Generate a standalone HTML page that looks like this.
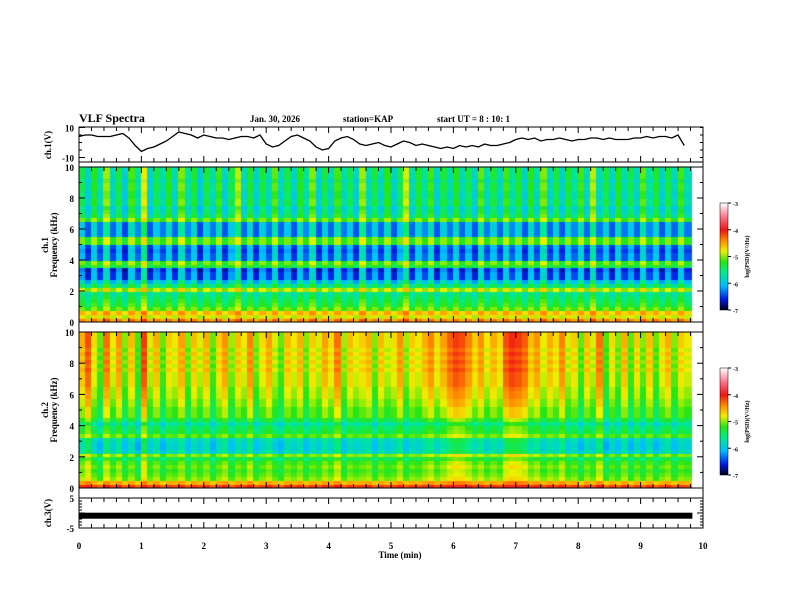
<!DOCTYPE html>
<html><head><meta charset="utf-8">
<style>
html,body{margin:0;padding:0;background:#fff;}
#wrap{position:relative;width:792px;height:612px;overflow:hidden;font-family:"Liberation Serif",serif;}
canvas{position:absolute;}
svg{position:absolute;left:0;top:0;}
text{font-family:"Liberation Serif",serif;font-weight:bold;fill:#000;}
</style></head><body>
<div id="wrap">
<canvas id="spec1" width="614" height="155" style="left:79px;top:167px"></canvas>
<canvas id="spec2" width="614" height="156" style="left:79px;top:332px"></canvas>
<canvas id="cb1" width="8" height="107" style="left:720px;top:203px"></canvas>
<canvas id="cb2" width="8" height="107" style="left:720px;top:368px"></canvas>
<svg id="axes" width="792" height="612"></svg>
</div>
<script>
// ---- data ----
const timeTicks=[0,1,2,3,4,5,6,7,8,9,10];
const freqTicks=[0,2,4,6,8,10];
const cbTicks=[-3,-4,-5,-6,-7];
// ch1 waveform every 0.1 min (V)
const ch1Wave=[4,5,5,4,4,4,5,6,3,-2,-6,-4,-3,-1,1,4,7,6,5,3,5,4,3,3,2,3,4,4,3,5,-1,-3,-2,1,4,5,3,1,-3,-5,-4,1,3,4,2,-1,-2,-1,0,-2,-3,-1,1,0,-2,-1,-2,-3,-4,-3,-4,-2,-3,-2,-3,-1,-2,-2,-1,0,2,3,2,3,1,2,2,3,2,1,2,2,3,3,2,3,2,2,2,3,3,4,3,4,4,3,5,-2];
// ch1 band levels, 0.25 kHz rows from 0 kHz (log PSD)
const band1=[-4.4,-4.8,-4.6,-5.1,-5.3,-5.4,-5.5,-5.6,-4.9,-5.5,-5.9,-6.3,-6.3,-6.4,-5.3,-5.1,-6.2,-6.2,-6.3,-6.2,-5.1,-5.1,-6.1,-6.1,-6.1,-6.1,-5.1,-5.5,-5.6,-5.7,-5.5,-5.5,-5.6,-5.6,-5.5,-5.5,-5.6,-5.5,-5.5,-5.5];
const band2=[-4.2,-4.6,-5.1,-5.2,-5.3,-5.2,-5.3,-5.5,-5.1,-5.9,-6.0,-6.0,-5.9,-5.2,-5.5,-5.6,-5.8,-5.5,-5.3,-5.3,-5.3,-5.2,-5.2,-5.1,-5.1,-5.1,-5.0,-5.0,-5.0,-5.0,-4.9,-5.0,-4.9,-5.0,-4.9,-5.0,-4.9,-4.9,-4.9,-4.9];
// column modulation per 0.1 min
const mod1=[0.2,-0.6,0.5,-0.4,0.9,-0.5,0.3,-0.7,0.6,-0.3,1.2,-0.6,0.2,-0.4,0.5,-0.5,0.8,-0.3,0.4,-0.7,0.3,-0.4,0.6,-0.6,0.2,1.0,-0.5,0.4,-0.6,0.3,-0.4,0.7,-0.5,0.2,-0.6,0.5,-0.3,0.8,-0.6,0.3,-0.5,0.6,-0.4,0.2,-0.6,0.9,-0.4,0.3,-0.5,0.5,-0.6,0.2,1.1,-0.5,0.4,-0.3,0.6,-0.6,0.3,-0.4,0.5,-0.5,0.2,-0.6,0.7,-0.4,0.3,-0.5,0.6,-0.3,0.4,-0.6,0.5,-0.4,0.8,-0.5,0.3,-0.6,0.4,-0.3,0.6,-0.5,1.0,-0.4,0.3,-0.6,0.5,-0.4,0.2,-0.5,0.7,-0.3,0.4,-0.6,0.3,-0.5,0.6,-0.4];
const mod2=[0.6,1.2,0.3,-0.3,1.0,0.2,0.8,-0.2,0.5,-0.4,1.3,0.1,0.6,-0.3,0.4,0.2,0.7,-0.2,0.5,0.1,0.6,-0.3,0.4,0.8,-0.1,0.5,0.2,0.9,-0.2,0.3,0.7,0.1,-0.3,0.5,0.2,0.6,-0.2,0.4,0.1,0.7,0.3,1.0,-0.1,0.5,0.2,0.4,0.6,-0.2,0.5,0.1,0.3,0.8,-0.1,0.4,0.2,0.6,0.9,0.3,0.7,1.1,1.3,1.2,0.9,0.4,0.8,0.2,0.6,0.3,1.2,1.4,1.3,1.1,0.5,0.8,0.2,0.6,0.3,0.9,0.1,0.4,-0.3,0.5,0.1,1.0,-0.4,0.3,-0.2,0.6,-0.3,0.4,-0.2,0.5,-0.3,0.3,0.6,-0.2,0.4,0.2];
// row sensitivity to column modulation
const sens1=[0.25,0.25,0.25,0.25,0.35,0.35,0.35,0.35,0.3,0.4,0.5,0.55,0.55,0.55,0.35,0.35,0.55,0.55,0.55,0.55,0.35,0.35,0.55,0.55,0.55,0.55,0.35,0.6,0.6,0.6,0.6,0.6,0.6,0.6,0.6,0.6,0.6,0.6,0.6,0.6];
const sens2=[0.2,0.2,0.3,0.3,0.35,0.35,0.35,0.35,0.3,0.45,0.45,0.45,0.45,0.3,0.4,0.45,0.45,0.45,0.5,0.5,0.5,0.55,0.55,0.55,0.55,0.6,0.6,0.6,0.6,0.6,0.6,0.6,0.6,0.6,0.6,0.6,0.6,0.6,0.6,0.6];
const ch3Level=[-0.9];

// ---- scales ----
const X0=79,X1=703;
const xT=t=>X0+(X1-X0)*t/10;
const yF1=f=>322-(322-167)*f/10;
const yF2=f=>488-(488-332)*f/10;
const yV1=v=>142.5-15*v/10;
const yV3=v=>513-15*v/5;

function cmap(v){
  const s=[[-7,[0,0,40]],[-6.6,[0,30,230]],[-6.1,[0,190,255]],[-5.6,[0,235,140]],[-5.2,[40,230,20]],[-4.8,[240,240,0]],[-4.4,[255,140,0]],[-4.0,[240,20,20]],[-3.5,[250,120,140]],[-3,[255,255,255]]];
  if(v<=s[0][0])return s[0][1];
  for(let i=1;i<s.length;i++){if(v<=s[i][0]){const a=s[i-1],b=s[i],k=(v-a[0])/(b[0]-a[0]);return a[1].map((c,j)=>Math.round(c+(b[1][j]-c)*k));}}
  return s[s.length-1][1];
}
function drawSpec(id,band,mod,sens,yF){
  const cv=document.getElementById(id),ctx=cv.getContext('2d');
  const top=parseFloat(cv.style.top);
  for(let c=0;c<mod.length;c++){
    const xa=xT(c*0.1)-X0,xb=xT((c+1)*0.1)-X0;
    for(let r=0;r<band.length;r++){
      const v=band[r]+mod[c]*sens[r];
      const col=cmap(v);
      ctx.fillStyle=`rgb(${col[0]},${col[1]},${col[2]})`;
      const ya=yF((r+1)*0.25)-top,yb=yF(r*0.25)-top;
      ctx.fillRect(Math.floor(xa),Math.floor(ya),Math.ceil(xb-xa)+1,Math.ceil(yb-ya)+1);
    }
  }
}
drawSpec('spec1',band1,mod1,sens1,yF1);
drawSpec('spec2',band2,mod2,sens2,yF2);
['cb1','cb2'].forEach(id=>{const ctx=document.getElementById(id).getContext('2d');for(let y=0;y<107;y++){const c=cmap(-3-4*y/106);ctx.fillStyle=`rgb(${c})`;ctx.fillRect(0,y,8,1);}});

// ---- svg axes ----
const svg=document.getElementById('axes');const NS='http://www.w3.org/2000/svg';
function el(tag,attrs,txt){const e=document.createElementNS(NS,tag);for(const k in attrs)e.setAttribute(k,attrs[k]);if(txt!==undefined)e.textContent=txt;svg.appendChild(e);return e;}
function line(x1,y1,x2,y2,w){return el('line',{x1,y1,x2,y2,stroke:'#000','stroke-width':w||1});}
function txt(x,y,s,size,anchor,rot){const a={x,y,'font-size':size,'text-anchor':anchor||'start'};if(rot)a.transform=`rotate(-90 ${x} ${y})`;return el('text',a,s);}

const hdr=[[79,'VLF Spectra',12],[250,'Jan. 30, 2026',9],[343,'station=KAP',9],[437,'start UT =  8 : 10: 1',9]];
hdr.forEach(h=>{const t=txt(h[0],122,h[1],h[2]);});

const panels=[[127,162],[167,322],[332,488],[498,528]];
panels.forEach(p=>{
  const r=el('rect',{x:X0,y:p[0],width:X1-X0,height:p[1]-p[0],fill:'none',stroke:'#000','stroke-width':1});
  
  for(let i=0;i<=50;i++){const x=xT(i*0.2),L=(i%5==0)?6:4;line(x,p[0],x,p[0]+L);line(x,p[1],x,p[1]-L);}
});
line(X0,162,X0,167);line(X1,162,X1,167);line(X0,322,X0,332);line(X1,322,X1,332);line(X0,488,X0,498);line(X1,488,X1,498);
[[yF1],[yF2]].forEach(([yF])=>{
  for(let f=0;f<=10;f++){const y=yF(f),L=f%2==0?6:3;line(X0,y,X0+L,y);line(X1,y,X1-L,y);}
  freqTicks.forEach(f=>{const t=txt(74,yF(f)+4,String(f),9,'end');});
});
[10,-10].forEach(v=>{line(X0,yV1(v),X0+6,yV1(v));const t=txt(74,yV1(v)+4,String(v),9,'end');});
for(let v=-10;v<=10;v+=5){line(X0,yV1(v),X0+3,yV1(v));line(X1,yV1(v),X1-3,yV1(v));}
[5,-5].forEach(v=>{const t=txt(74,yV3(v)+4,String(v),9,'end');});
for(let v=-5;v<=5;v++){const L=v%5==0?6:3;line(X0,yV3(v),X0+L,yV3(v));line(X1,yV3(v),X1-L,yV3(v));}
timeTicks.forEach(t=>{const e=txt(xT(t),549,String(t),9,'middle');});
{const e=txt(400,558,'Time  (min)',9,'middle');}
{let e=txt(51,145,'ch.1(V)',9,'middle',true);
e=txt(48,245,'ch.1',9,'middle',true);
e=txt(57,245,'Frequency  (kHz)',9,'middle',true);
e=txt(48,410,'ch.2',9,'middle',true);
e=txt(57,410,'Frequency  (kHz)',9,'middle',true);
e=txt(51,513,'ch.3(V)',9,'middle',true);}
{let d='';ch1Wave.forEach((v,i)=>{d+=(i?'L':'M')+xT(i*0.1).toFixed(1)+' '+yV1(v).toFixed(1);});
const p=el('path',{d,fill:'none',stroke:'#000','stroke-width':1.3});}
{const r=el('rect',{x:X0,y:yV3(ch3Level[0])-3,width:xT(9.83)-X0,height:6,fill:'#000'});}
[[203,310],[368,475]].forEach(([a,b])=>{
  el('rect',{x:720,y:a,width:8,height:b-a,fill:'none',stroke:'#000','stroke-width':0.5});
  cbTicks.forEach(v=>{const y=a+(b-a)*(-3-v)/4;line(728,y,731,y);const t=txt(733,y+3,String(v),6);});
  const t=txt(749,(a+b)/2,'log(PSD)(V²/Hz)',6,'middle',true);
});
</script>
</body></html>
